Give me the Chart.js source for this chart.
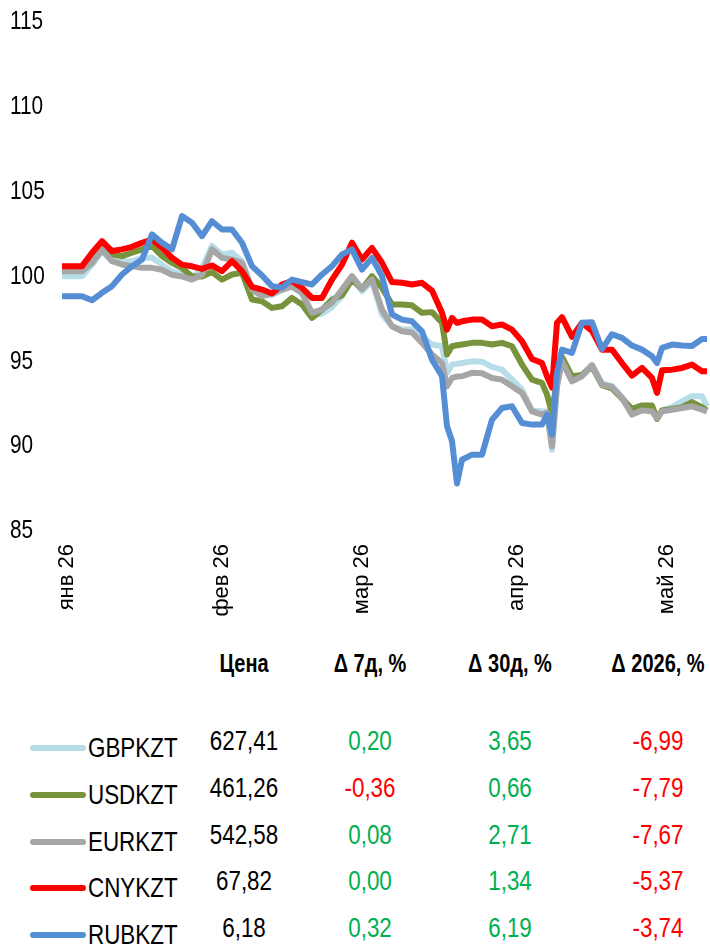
<!DOCTYPE html>
<html>
<head>
<meta charset="utf-8">
<script src="https://cdn.jsdelivr.net/npm/chart.js@4.4.1/dist/chart.umd.min.js"></script>
<style>
  body { margin: 0; width: 710px; height: 948px; background: #fff; position: relative; overflow: hidden; }
  #wrap { position: absolute; left: 0; top: 0; width: 710px; height: 640px; }
  .cell { position: absolute; white-space: nowrap; font-family: "Liberation Sans", Arial, sans-serif; font-size: 28px; line-height: 1;
          transform-origin: 50% 50%; transform: translate(-50%, -50%) scaleX(0.8); }
  .hdr { font-weight: bold; font-size: 25px; }
  .name { transform-origin: 0 50%; transform: translate(0, -50%) scaleX(0.8); }
  .sw { position: absolute; height: 6px; border-radius: 3px; }
</style>
</head>
<body>
<div id="wrap"><canvas id="fxChart" width="710" height="640"></canvas></div>
<script>
// days since 1 Jan 2026
const days = [-1, 1, 3, 5, 7, 9, 11, 13, 15, 17, 19, 21, 23, 25, 27, 29, 31, 33, 35, 37, 39, 41, 43, 45, 47, 49, 51, 53, 55, 57, 59, 61, 63, 65, 67, 69, 71, 73, 75,
  76, 77, 78, 79, 81, 83, 85, 87, 89, 91, 93, 95, 96, 97, 98, 99, 101, 103, 105, 107, 109, 111, 113, 115, 117, 118, 119, 121, 123, 125, 127, 128];

const gbpkzt = [100.02, 100.02, 100.02, 100.7, 101.5, 100.9, 100.9, 100.9, 101.1, 101.1, 100.7, 100.3, 100.12, 99.9, 100.5, 101.8, 101.3, 101.4, 100.9, 99.3, 98.9, 98.9, 99.2, 99.4, 99.0, 97.7, 97.8, 98.2, 98.84, 99.9, 99.13, 99.73, 97.76, 97.07, 96.87, 96.87, 96.48, 95.99, 95.89,
  94.32, 94.81, 94.85, 94.9, 95.0, 94.98, 94.67, 94.51, 93.92, 93.33, 92.1, 92.05, 92.05, 89.79, 93.6, 95.1, 93.92, 94.22, 94.81, 93.7, 93.55, 92.9, 91.95, 92.15, 92.1, 91.7, 92.1, 92.3, 92.64, 92.94, 92.94, 92.35];

const usdkzt = [100.4, 100.4, 100.4, 101.0, 101.8, 101.3, 101.2, 101.4, 101.6, 101.8, 101.2, 100.8, 100.5, 100.0, 100.0, 100.26, 99.82, 100.12, 100.22, 98.64, 98.54, 98.15, 98.25, 98.74, 98.35, 97.56, 98.05, 98.64, 98.9, 99.82, 99.27, 100.02, 99.33, 98.35, 98.35, 98.3, 97.86, 97.9, 97.27,
  95.4, 95.89, 95.95, 95.99, 96.09, 96.09, 95.99, 96.09, 95.89, 94.81, 93.92, 93.73, 93.04, 91.96, 93.92, 95.26, 94.12, 94.2, 94.71, 93.6, 93.4, 92.8, 92.2, 92.4, 92.4, 91.6, 92.1, 92.2, 92.3, 92.6, 92.3, 92.1];

const eurkzt = [100.31, 100.31, 100.31, 100.8, 101.6, 100.9, 100.71, 100.61, 100.51, 100.51, 100.4, 100.1, 100.0, 99.82, 100.1, 101.6, 101.1, 101.0, 100.81, 99.23, 98.84, 99.0, 99.23, 99.43, 99.04, 97.86, 98.05, 98.45, 99.23, 100.02, 99.27, 99.82, 98.05, 97.07, 96.77, 96.7, 96.09, 95.4, 94.9,
  93.53, 94.02, 94.1, 94.12, 94.32, 94.3, 94.02, 93.92, 93.53, 93.14, 92.05, 91.86, 91.96, 89.99, 93.53, 95.0, 93.82, 94.12, 94.75, 93.63, 93.49, 92.84, 91.86, 92.11, 92.05, 91.66, 92.05, 92.15, 92.25, 92.35, 92.15, 92.05];

const cnykzt = [100.61, 100.61, 100.61, 101.4, 102.08, 101.5, 101.6, 101.75, 101.99, 102.18, 101.7, 101.1, 100.7, 100.6, 100.45, 100.65, 100.31, 100.9, 100.31, 99.39, 99.23, 99.0, 99.53, 99.73, 99.33, 98.74, 98.74, 99.82, 100.7, 101.99, 101.0, 101.69, 100.81, 99.67, 99.63, 99.53, 99.63, 99.17, 97.86,
  96.87, 97.56, 97.27, 97.36, 97.46, 97.46, 97.07, 97.17, 96.87, 96.18, 95.14, 94.9, 94.12, 93.45, 97.27, 97.6, 96.44, 97.27, 96.8, 95.69, 95.69, 94.9, 94.16, 94.61, 94.02, 93.14, 94.47, 94.51, 94.61, 94.81, 94.41, 94.41];

const rubkzt = [98.84, 98.84, 98.84, 98.6, 99.04, 99.43, 100.12, 100.61, 101.0, 102.48, 101.99, 101.6, 103.56, 103.17, 102.38, 103.26, 102.77, 102.77, 101.99, 100.61, 100.06, 99.43, 99.35, 99.82, 99.67, 99.53, 100.12, 100.61, 101.3, 101.6, 100.41, 101.1, 100.02, 97.76, 97.46, 97.36, 96.77, 95.1, 94.12,
  91.17, 90.3, 87.8, 89.2, 89.5, 89.5, 91.56, 92.25, 92.35, 91.37, 91.27, 91.27, 91.86, 90.68, 94.32, 95.69, 95.5, 97.27, 97.3, 95.73, 96.6, 96.38, 95.93, 95.69, 95.3, 94.9, 95.79, 95.99, 95.93, 95.9, 96.32, 96.32];

const monthDays = [0, 31, 59, 90, 120];
const monthLabels = ["янв 26", "фев 26", "мар 26", "апр 26", "май 26"];

// table
const pairNames = ["GBPKZT", "USDKZT", "EURKZT", "CNYKZT", "RUBKZT"];
const pairColors = ["#b7dde8", "#77933c", "#a6a6a6", "#ff0000", "#558ed5"];
const prices = ["627,41", "461,26", "542,58", "67,82", "6,18"];
const chg7d = ["0,20", "-0,36", "0,08", "0,00", "0,32"];
const chg30d = ["3,65", "0,66", "2,71", "1,34", "6,19"];
const chgYtd = ["-6,99", "-7,79", "-7,67", "-5,37", "-3,74"];
const headers = ["Цена", "Δ 7д, %", "Δ 30д, %", "Δ 2026, %"];

const allSeries = [gbpkzt, usdkzt, eurkzt, cnykzt, rubkzt];

const datasets = allSeries.map((arr, k) => ({
  label: pairNames[k],
  data: days.map((d, i) => ({ x: d, y: arr[i] })),
  borderColor: pairColors[k],
  borderWidth: 6,
  pointRadius: 0,
  tension: 0,
  borderJoinStyle: "round",
  order: 5 - k
}));

// no narrow font installed: draw y tick labels squeezed horizontally
const narrowYLabels = {
  id: "narrowYLabels",
  afterDraw(chart) {
    const sc = chart.scales.y;
    const ctx = chart.ctx;
    ctx.save();
    ctx.font = '26px "Liberation Sans", Arial, sans-serif';
    ctx.fillStyle = "#000";
    ctx.textAlign = "left";
    ctx.textBaseline = "middle";
    sc.ticks.forEach(t => {
      const y = sc.getPixelForValue(t.value);
      ctx.setTransform(0.8, 0, 0, 1, 10, y);
      ctx.fillText(String(t.value), 0, 0);
    });
    ctx.restore();
  }
};

new Chart(document.getElementById("fxChart"), {
  type: "line",
  data: { datasets: datasets },
  plugins: [narrowYLabels],
  options: {
    responsive: false,
    animation: false,
    devicePixelRatio: 1,
    layout: { padding: { left: 10, top: 22, right: 0, bottom: 0 } },
    plugins: { legend: { display: false }, tooltip: { enabled: false } },
    scales: {
      x: {
        type: "linear",
        min: -1.4,
        max: 128.6,
        grid: { display: false, drawTicks: false },
        border: { display: false },
        afterBuildTicks: (s) => { s.ticks = monthDays.map(v => ({ value: v })); },
        afterFit: (s) => { s.height = 109; },
        ticks: {
          autoSkip: false,
          minRotation: 90,
          maxRotation: 90,
          padding: 13,
          color: "#000",
          font: { family: '"Liberation Sans", Arial, sans-serif', size: 22 },
          callback: (v, i) => monthLabels[i]
        }
      },
      y: {
        min: 85,
        max: 115,
        grid: { display: false, drawTicks: false },
        border: { display: false },
        afterFit: (s) => { s.width = 50; },
        ticks: {
          stepSize: 5,
          crossAlign: "far",
          color: "rgba(0,0,0,0)",
          font: { size: 26 }
        }
      }
    }
  }
});

// table under the chart
const colX = [244, 370, 510, 658];
function addCell(text, x, y, cls, color) {
  const d = document.createElement("div");
  d.className = "cell " + (cls || "");
  d.textContent = text;
  d.style.left = x + "px";
  d.style.top = y + "px";
  if (color) d.style.color = color;
  document.body.appendChild(d);
}
headers.forEach((h, i) => addCell(h, colX[i], 663, "hdr"));
const chgColor = (v) => v.startsWith("-") ? "#ff0000" : "#00b050";
pairNames.forEach((n, r) => {
  const yv = 741 + r * 46.8;
  const yn = yv + 7;
  const sw = document.createElement("div");
  sw.className = "sw";
  sw.style.left = "30px";
  sw.style.width = "56px";
  sw.style.top = (yn - 3) + "px";
  sw.style.background = pairColors[r];
  document.body.appendChild(sw);
  addCell(n, 88, yn, "name");
  addCell(prices[r], colX[0], yv);
  addCell(chg7d[r], colX[1], yv, "", chgColor(chg7d[r]));
  addCell(chg30d[r], colX[2], yv, "", chgColor(chg30d[r]));
  addCell(chgYtd[r], colX[3], yv, "", chgColor(chgYtd[r]));
});
</script>
</body>
</html>
